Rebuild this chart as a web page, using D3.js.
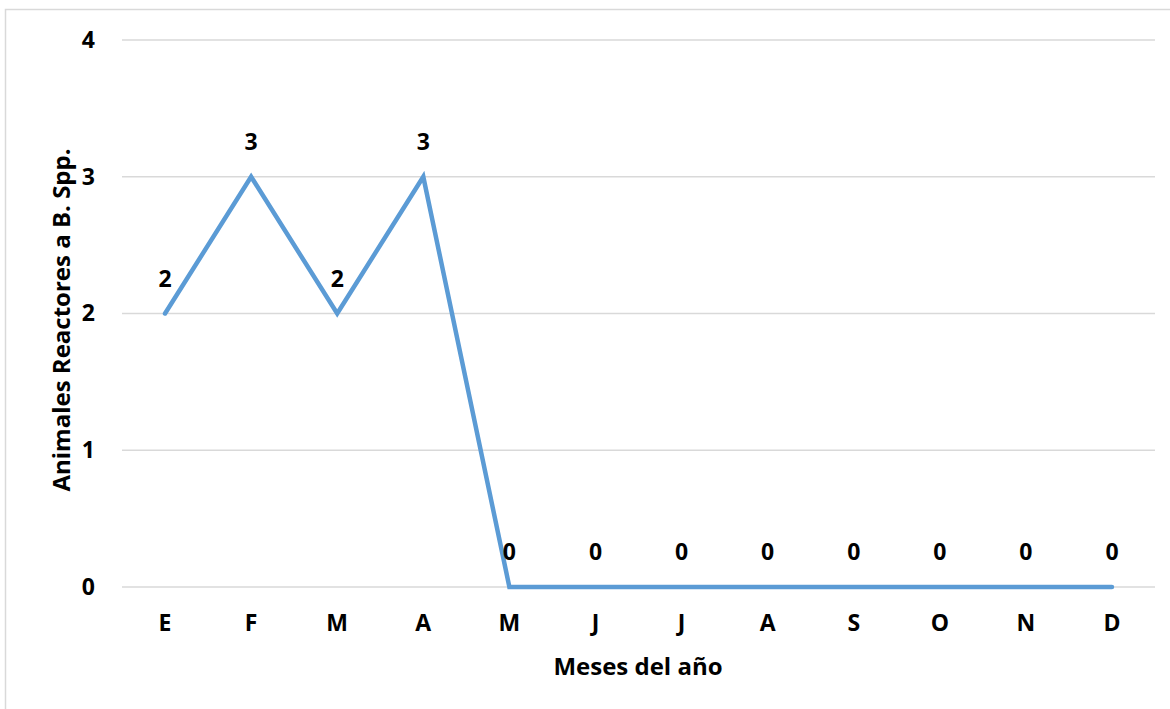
<!DOCTYPE html>
<html>
<head>
<meta charset="utf-8">
<script src="https://cdn.jsdelivr.net/npm/d3@7"></script>
<style>
  html, body { margin: 0; padding: 0; background: #fff; }
  svg { display: block; }
  text { font-family: "Open Sans", sans-serif; font-weight: 700; fill: #000; }
</style>
</head>
<body>
<svg id="chart" width="1170" height="709"></svg>
<script>
// Monthly counts of reactor animals
const months = ["E", "F", "M", "A", "M", "J", "J", "A", "S", "O", "N", "D"];
const reactors = [2, 3, 2, 3, 0, 0, 0, 0, 0, 0, 0, 0];
const yTicks = [0, 1, 2, 3, 4];
const xTitle = "Meses del año";
const yTitle = "Animales Reactores a B. Spp.";

const FONT = "'Open Sans', sans-serif";
const LABEL_SIZE = 23;
const TITLE_SIZE = 24;
const svg = d3.select("#chart");
const W = 1170, H = 709;
const plot = { left: 122, right: 1155, top: 40, bottom: 587 };

// chart frame
svg.append("rect")
  .attr("x", 5.5).attr("y", 9.5)
  .attr("width", W + 10).attr("height", H + 10)
  .attr("fill", "none").attr("stroke", "#d9d9d9").attr("stroke-width", 1.5);

const x = d3.scaleBand()
  .domain(d3.range(months.length))
  .range([plot.left, plot.right]);

const y = d3.scaleLinear().domain([0, 4]).range([plot.bottom, plot.top]);

// horizontal gridlines
svg.append("g").selectAll("line").data(yTicks).join("line")
  .attr("x1", plot.left).attr("x2", plot.right)
  .attr("y1", d => y(d)).attr("y2", d => y(d))
  .attr("stroke", "#d9d9d9").attr("stroke-width", 1.5);

function styleLabels(sel) {
  sel.attr("font-size", LABEL_SIZE).attr("font-family", FONT)
     .attr("font-weight", 700).attr("fill", "#000");
}

// y axis labels
const yAxis = svg.append("g")
  .attr("transform", `translate(${plot.left},0)`)
  .call(d3.axisLeft(y).tickValues(yTicks).tickSize(0).tickPadding(27).tickFormat(d3.format("d")));
yAxis.select(".domain").remove();
styleLabels(yAxis.selectAll("text"));

// x axis labels
const xAxis = svg.append("g")
  .attr("transform", `translate(0,${plot.bottom})`)
  .call(d3.axisBottom(x).tickSize(0).tickPadding(28).tickFormat(i => months[i]));
xAxis.select(".domain").remove();
styleLabels(xAxis.selectAll("text"));

const cx = i => x(i) + x.bandwidth() / 2;

// series line
const line = d3.line().x((d, i) => cx(i)).y(d => y(d));
svg.append("path")
  .datum(reactors)
  .attr("d", line)
  .attr("fill", "none")
  .attr("stroke", "#5b9bd5")
  .attr("stroke-width", 4.5)
  .attr("stroke-linejoin", "miter")
  .attr("stroke-linecap", "round");

// value labels
svg.append("g").selectAll("text").data(reactors).join("text")
  .attr("x", (d, i) => cx(i))
  .attr("y", d => y(d) - 27)
  .attr("text-anchor", "middle")
  .attr("font-size", LABEL_SIZE)
  .text(d => d);

// axis titles
svg.append("text")
  .attr("x", 638)
  .attr("y", 675)
  .attr("text-anchor", "middle")
  .attr("font-size", TITLE_SIZE)
  .text(xTitle);

svg.append("text")
  .attr("transform", `translate(70,320) rotate(-90)`)
  .attr("text-anchor", "middle")
  .attr("font-size", TITLE_SIZE)
  .text(yTitle);
</script>
</body>
</html>
